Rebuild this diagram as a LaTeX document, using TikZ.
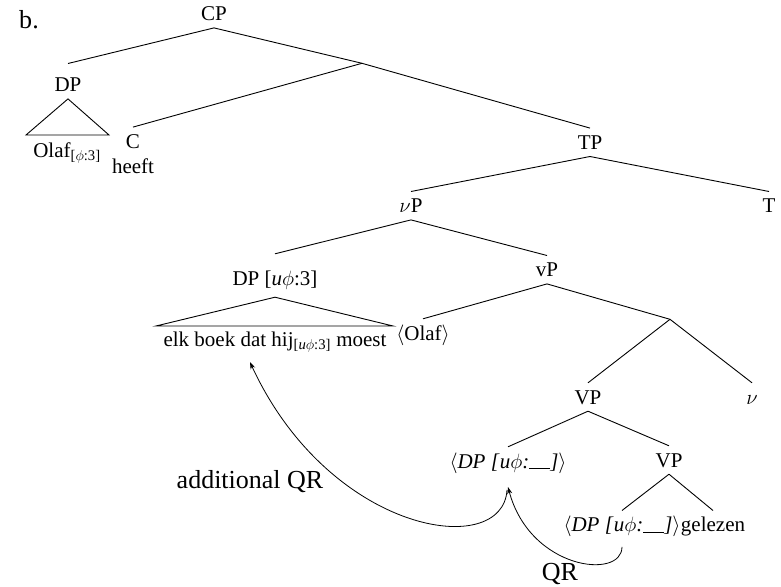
\documentclass[tikz,border=0pt]{standalone}
\usepackage{fontspec}
\setmainfont{Liberation Serif}
\usetikzlibrary{arrows.meta}
% empty feature slot for unvalued features
\newcommand{\featgap}{\rule[-0.5pt]{1em}{0.7pt}}
\newcommand{\uphi}{\textit{u}$\phi$}
\begin{document}
\begin{tikzpicture}[x=1pt,y=-1pt,
  lbl/.style={inner sep=0pt, text height=21pt, text depth=7pt, anchor=base,
              font=\fontsize{21}{25}\selectfont},
  br/.style={line width=0.9pt},
  mv/.style={line width=0.8pt, -{Stealth[length=7pt,width=5pt]}},
  big/.style={inner sep=0pt, anchor=base, font=\fontsize{26}{30}\selectfont}]
\fill[white] (0,0) rectangle (781,586);
\useasboundingbox (0,0) rectangle (781,586);

\node[big] (ex) at (29,28.3) {b.};

% nodes of the tree
\node[lbl] (CP) at (214,20.7) {CP};
\node[lbl] (DPo) at (68,91.7) {DP};
\node[lbl] (Olaf) at (67,157.7) {Olaf\textsubscript{[$\phi$:3]}};
\coordinate (Cbar) at (362,63.3);
\node[lbl] (C) at (133,148.3) {C};
\node[lbl] (heeft) at (133,173.3) {heeft};
\node[lbl] (TP) at (590,149.3) {TP};
\node[lbl] (vP1) at (411,212.7) {$\nu$P};
\node[lbl] (T) at (769,212.7) {T};
\node[lbl] (DPu) at (275,285) {DP [\uphi:3]};
\node[lbl] (elk) at (275,346) {elk boek dat hij\textsubscript{[\uphi:3]} moest};
\node[lbl] (vP2) at (547,276.7) {vP};
\node[lbl] (olafcopy) at (423,340) {$\langle$Olaf$\rangle$};
\coordinate (vbar) at (670,319.3);
\node[lbl] (VPa) at (588,404) {VP};
\node[lbl] (vhead) at (752,404) {$\nu$};
\node[lbl] (DPmid) at (508,468) {$\langle$\textit{DP [}\uphi\textit{:}\featgap\textit{]}$\rangle$};
\node[lbl] (VPb) at (669,467) {VP};
\node[lbl] (DPlow) at (622,531.7) {$\langle$\textit{DP [}\uphi\textit{:}\featgap\textit{]}$\rangle$};
\node[lbl] (gel) at (713,531.7) {gelezen};

% branches
\draw[br] (CP.south) -- ([yshift=7pt]DPo.north);
\draw[br] (CP.south) -- (Cbar);
\draw[br] (Cbar) -- (C.north);
\draw[br] (Cbar) -- (TP.north);
\draw[br] (TP.south) -- (vP1.north);
\draw[br] (TP.south) -- (T.north);
\draw[br] (vP1.south) -- ([yshift=10pt]DPu.north);
\draw[br] (vP1.south) -- (vP2.north);
\draw[br] (vP2.south) -- (olafcopy.north);
\draw[br] (vP2.south) -- (vbar);
\draw[br] (vbar) -- (VPa.north);
\draw[br] (vbar) -- (vhead.north);
\draw[br] (VPa.south) -- (DPmid.north);
\draw[br] (VPa.south) -- (VPb.north);
\draw[br] (VPb.south) -- (DPlow.north);
\draw[br] (VPb.south) -- (gel.north);

% roofs over unanalysed phrases
\draw[br] (DPo.south) -- (26,135) -- (109,135) -- cycle;
\draw[br] ([yshift=-5pt]DPu.south) -- (156,326) -- (393,326) -- cycle;

% movement arrows
\coordinate (tip) at (508,487);
\draw[mv] ([yshift=-8pt]DPlow.south) .. controls (622,580) and (530,570) .. (tip);
\draw[mv] (507,490) .. controls (503,560) and (330,535) .. ([xshift=-25pt,yshift=-9pt]elk.south);

\node[big] (aqr) at (250,488.3) {additional QR};
\node[big] (qr) at (560,580) {QR};
\end{tikzpicture}
\end{document}
